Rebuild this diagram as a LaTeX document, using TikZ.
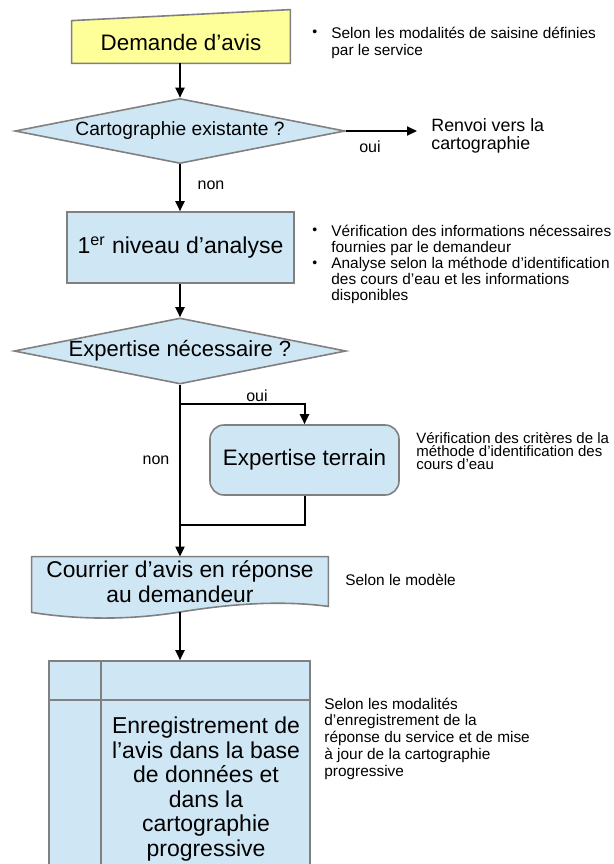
\documentclass[tikz,border=0pt]{standalone}
\usepackage{fontspec}
\setmainfont{Liberation Sans}
\usetikzlibrary{shapes.geometric,arrows.meta,backgrounds}

\definecolor{boxblue}{RGB}{207,231,245}
\definecolor{boxyellow}{RGB}{255,255,153}
\definecolor{boxline}{RGB}{128,128,128}

\newcommand{\blt}{\makebox[9.5pt][l]{\raisebox{0.6pt}{\scriptsize•}}}
\newcommand{\bltgap}{\hspace*{9.5pt}}

\tikzset{
  flow/.style={line width=1pt,-{Triangle[width=4.5pt,length=5pt]}},
  link/.style={line width=1pt},
  procbox/.style={draw=boxline,line width=0.8pt,fill=boxblue,inner sep=0pt,align=center},
  decision/.style={diamond,draw=boxline,line width=0.8pt,fill=boxblue,inner sep=0pt,aspect=5},
  note/.style={anchor=north west,inner sep=0pt,align=left},
  lbl/.style={inner sep=0pt,font=\fontsize{8}{9}\selectfont},
}

\begin{document}
\begin{tikzpicture}[x=0.5pt,y=-0.5pt]
  \useasboundingbox (0,0) rectangle (614,864);
  \clip (0,0) rectangle (614,864);

  % main column
  \node[inner sep=0pt,minimum width=109pt,minimum height=21pt,font=\fontsize{11.2}{12.5}\selectfont] (demande) at (181,42) {Demande d’avis};
  \node[decision,minimum width=165pt,minimum height=32.5pt,font=\fontsize{9.6}{10}\selectfont] (carto) at (180,131) {Cartographie existante ?};
  \node[procbox,minimum width=113.5pt,minimum height=35.5pt,font=\fontsize{11.5}{12.5}\selectfont] (analyse) at (180.5,247.5) {1\textsuperscript{er} niveau d’analyse};
  \node[decision,minimum width=166pt,minimum height=33pt,font=\fontsize{11}{12}\selectfont] (expnec) at (180,351) {Expertise nécessaire ?};
  \node[procbox,rounded corners=7pt,minimum width=94.5pt,minimum height=35pt,font=\fontsize{11.2}{12}\selectfont] (terrain) at (304.5,460) {Expertise terrain};
  \node[inner sep=0pt,align=center,minimum width=148pt,minimum height=24.5pt,font=\fontsize{11.4}{12.5}\selectfont] (courrier) at (180,581.5) {Courrier d’avis en réponse\\au demandeur};
  \node[procbox,minimum width=130.5pt,minimum height=110pt] (regbox) at (179.5,771) {};
  \node[inner sep=0pt,align=center,font=\fontsize{11.5}{12.25}\selectfont] (regtext) at (206,789) {Enregistrement de\\l’avis dans la base\\de données et\\dans la\\cartographie\\progressive};

  % odd shapes behind the text
  \begin{scope}[on background layer]
    \draw[draw=boxline,line width=0.8pt,fill=boxyellow] (demande.south west) -- (demande.south east)
      -- ([yshift=5.5pt]demande.north east) -- (demande.north west) -- cycle;
    \draw[draw=boxline,line width=0.8pt,fill=boxblue] (courrier.north west) -- (courrier.north east)
      -- (courrier.south east) .. controls (280,600) and (230,604) .. (180,612)
      .. controls (130,620) and (80,620) .. ([yshift=-3pt]courrier.south west) -- cycle;
  \end{scope}
  \draw[boxline,line width=0.8pt] ([xshift=26.5pt]regbox.north west) -- ([xshift=26.5pt]regbox.south west);
  \draw[boxline,line width=0.8pt] ([yshift=-20pt]regbox.north west) -- ([yshift=-20pt]regbox.north east);

  % side notes
  \node[note,font=\fontsize{7.7}{8.5}\selectfont] (note1) at (312,26.3) {\blt Selon les modalités de saisine définies\\\bltgap par le service};
  \node[note,font=\fontsize{8.9}{9}\selectfont] (renvoi) at (431,118.4) {Renvoi vers la\\cartographie};
  \node[note,font=\fontsize{7.7}{8.1}\selectfont] (note2) at (312,224.3) {\blt Vérification des informations nécessaires\\\bltgap fournies par le demandeur\\\blt Analyse selon la méthode d’identification\\\bltgap des cours d’eau et les informations\\\bltgap disponibles};
  \node[note,font=\fontsize{7.5}{6.5}\selectfont] (note3) at (416,432.3) {Vérification des critères de la\\méthode d’identification des\\cours d’eau};
  \node[inner sep=0pt,anchor=west,font=\fontsize{7.7}{8.5}\selectfont] (note4) at (345,580) {Selon le modèle};
  \node[note,font=\fontsize{7.7}{8.4}\selectfont] (note5) at (324,697.3) {Selon les modalités\\d’enregistrement de la\\réponse du service et de mise\\à jour de la cartographie\\progressive};

  % connectors
  \coordinate (split) at (180,404);
  \coordinate (join) at (180,525);
  \coordinate (wave) at (180,612);
  \draw[flow] (demande.south -| carto.north) -- (carto.north);
  \draw[flow] (carto.east) -- (carto.east -| renvoi.west) [shorten >=7pt];
  \draw[flow] (carto.south) -- (analyse.north -| carto.south);
  \draw[flow] (analyse.south -| expnec.north) -- (expnec.north);
  \draw[flow] (expnec.south) -- (courrier.north);
  \draw[flow] (split) -| (terrain.north);
  \draw[link] (terrain.south) |- (join);
  \draw[flow] (wave) -- (regbox.north -| wave);

  % branch labels
  \node[lbl] (oui1) at (370,147) {oui};
  \node[lbl] (non1) at (211,185) {non};
  \node[lbl] (oui2) at (257,396) {oui};
  \node[lbl] (non2) at (156,460) {non};
\end{tikzpicture}
\end{document}
